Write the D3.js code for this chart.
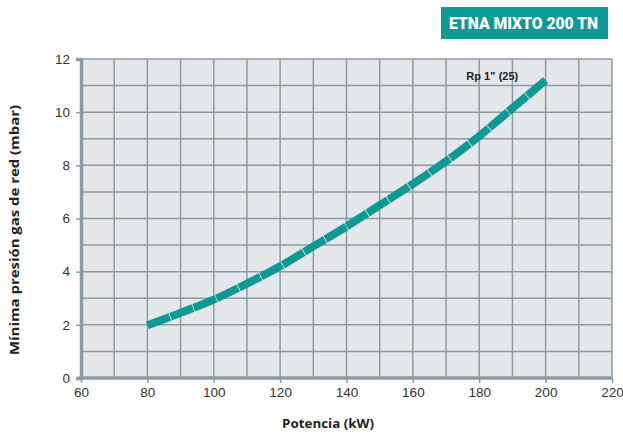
<!DOCTYPE html>
<html><head><meta charset="utf-8">
<script src="https://cdn.jsdelivr.net/npm/d3@7"></script>
<style>body{margin:0;background:#fff}svg{display:block}</style>
</head><body>
<svg id="c" width="623" height="439"></svg>
<script>
const title = "ETNA MIXTO 200 TN";
const xLabel = "Potencia (kW)";
const yLabel = "Mínima presión gas de red (mbar)";
const seriesName = "Rp 1” (25)";
const xTicks = [60,80,100,120,140,160,180,200,220];
const yTicks = [0,2,4,6,8,10,12];
const power = [80,90,100,110,120,130,140,150,160,170,180,190,200];
const pressure = [1.98,2.45,2.95,3.55,4.2,4.95,5.7,6.5,7.3,8.15,9.1,10.15,11.2];

const svg = d3.select("#c");
const x = d3.scaleLinear().domain([60,220]).range([81,612]);
const y = d3.scaleLinear().domain([0,12]).range([378,59]);
const grid = "#8c9ba3";

svg.append("rect").attr("x",x(60)).attr("y",y(12)).attr("width",x(220)-x(60)).attr("height",y(0)-y(12)).attr("fill","#e5e8eb");
svg.append("g").selectAll("line").data(d3.range(70,221,10)).join("line")
  .attr("x1",d=>x(d)).attr("x2",d=>x(d)).attr("y1",y(0)).attr("y2",y(12)).attr("stroke",grid).attr("stroke-width",1.5);
svg.append("g").selectAll("line").data(d3.range(1,13,1)).join("line")
  .attr("x1",x(60)).attr("x2",x(220)).attr("y1",d=>y(d)).attr("y2",d=>y(d)).attr("stroke",grid).attr("stroke-width",1.5);

const xa = svg.append("g").attr("transform",`translate(0,${y(0)})`)
  .call(d3.axisBottom(x).tickValues(xTicks).tickSize(5).tickPadding(4));
const ya = svg.append("g").attr("transform",`translate(${x(60)},0)`)
  .call(d3.axisLeft(y).tickValues(yTicks).tickSize(5).tickPadding(6));
[xa,ya].forEach(a=>{
  a.select(".domain").attr("stroke",grid).attr("stroke-width",3.5);
  a.selectAll(".tick line").attr("stroke",grid).attr("stroke-width",1.5);
  a.selectAll(".tick text").attr("fill","#333").attr("font-family","Liberation Sans, Arial, sans-serif").attr("font-size",13.5);
});
xa.select(".domain").attr("d",`M${x(60)-2},0H${x(220)}`);

const line = d3.line().x((d,i)=>x(power[i])).y(d=>y(d)).curve(d3.curveMonotoneX);
svg.append("path").datum(pressure).attr("d",line).attr("fill","none")
  .attr("stroke","#0e9a94").attr("stroke-width",8).attr("stroke-dasharray","24 0.8");

svg.append("text").attr("x",x(180)-13).attr("y",y(11.4)+5).text(seriesName)
  .attr("font-family","Liberation Sans, Arial, sans-serif").attr("font-weight","bold").attr("font-size",11).attr("fill","#222");

svg.append("rect").attr("x",441).attr("y",7).attr("width",167).attr("height",32).attr("fill","#0e9a94");
svg.append("text").attr("x",449).attr("y",29).text(title)
  .attr("textLength",149).attr("lengthAdjust","spacingAndGlyphs")
  .attr("font-family","Roboto, Liberation Sans, sans-serif")
  .attr("font-weight",900).attr("font-size",17).attr("fill","#fff");

svg.append("text").attr("x",282).attr("y",428).text(xLabel)
  .attr("textLength",92).attr("lengthAdjust","spacingAndGlyphs")
  .attr("font-family","Open Sans, DejaVu Sans, sans-serif").attr("font-weight","bold").attr("font-size",13).attr("fill","#222");
svg.append("text").attr("transform",`translate(19,355) rotate(-90)`).text(yLabel)
  .attr("textLength",250).attr("lengthAdjust","spacingAndGlyphs")
  .attr("font-family","Open Sans, DejaVu Sans, sans-serif").attr("font-weight","bold").attr("font-size",13).attr("fill","#222");
</script>
</body></html>
